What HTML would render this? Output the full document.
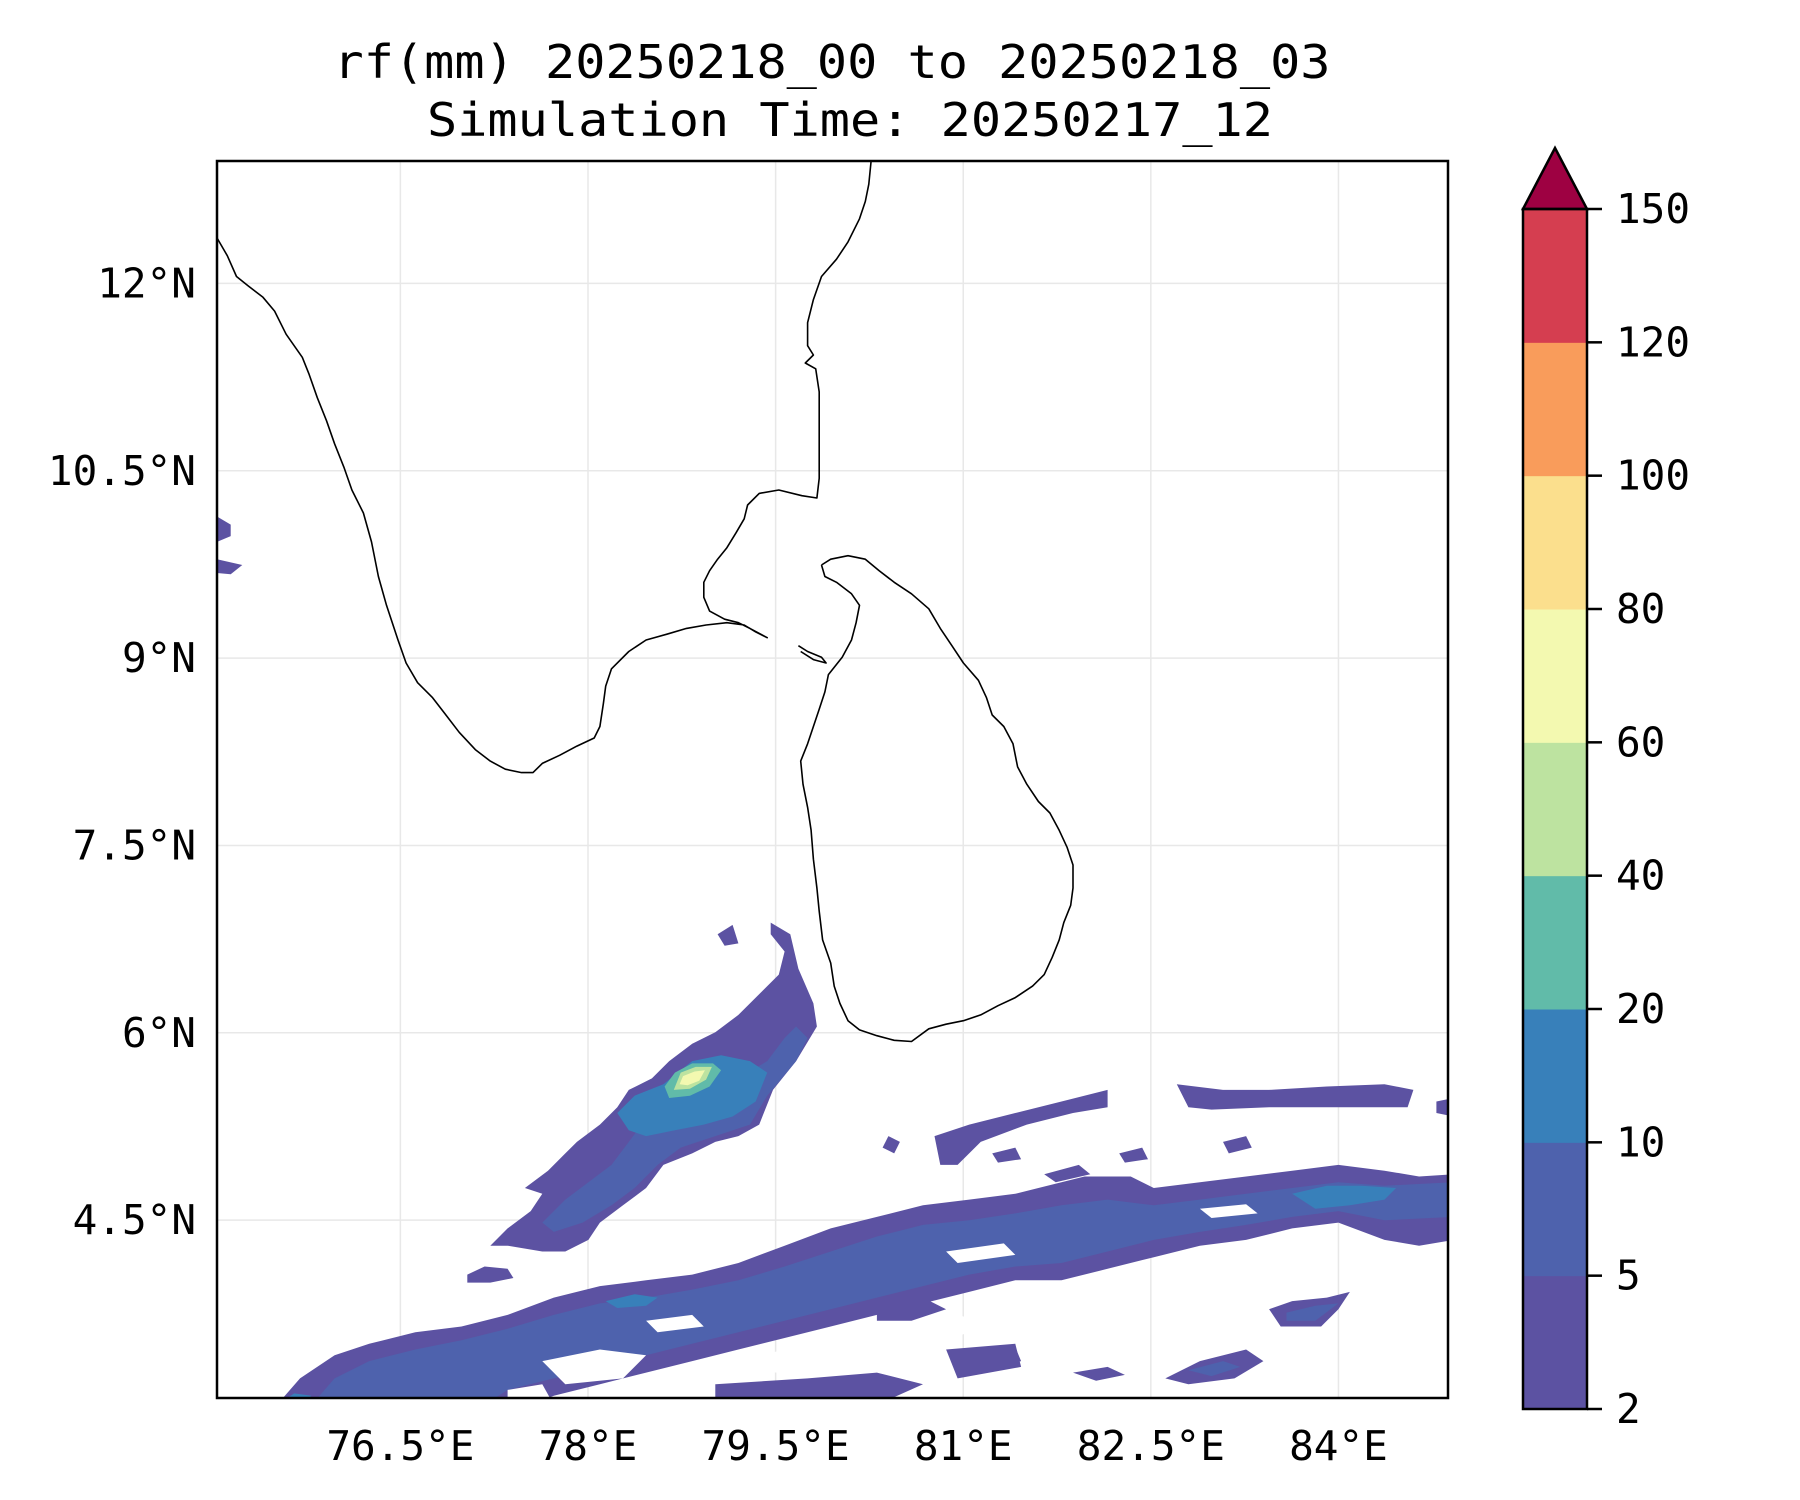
<!DOCTYPE html>
<html><head><meta charset="utf-8"><style>
html,body{margin:0;padding:0;background:#fff;}
svg{display:block;font-family:"DejaVu Sans Mono","Liberation Mono",monospace;}
</style></head><body>
<svg id="chart" width="1800" height="1500" viewBox="0 0 1800 1500" xmlns="http://www.w3.org/2000/svg">
<text x="832" y="78" font-size="46" text-anchor="middle" textLength="997" lengthAdjust="spacingAndGlyphs">rf(mm) 20250218_00 to 20250218_03</text>
<text x="850" y="136" font-size="46" text-anchor="middle" textLength="846" lengthAdjust="spacingAndGlyphs">Simulation Time: 20250217_12</text>
<defs><clipPath id="plotclip"><rect x="217" y="161" width="1231" height="1237"/></clipPath></defs>
<g id="grid"></g>
<g id="rain" clip-path="url(#plotclip)"></g>
<g id="coast" clip-path="url(#plotclip)"></g>
<rect x="217" y="161" width="1231" height="1237" fill="none" stroke="#000" stroke-width="2.5"/>
<g id="ticks"></g>
<g id="cbar"></g>
</svg>
<script>
// ---- axis / data arrays ----
const lonTicks = [76.5, 78, 79.5, 81, 82.5, 84];
const lonLabels = ["76.5°E","78°E","79.5°E","81°E","82.5°E","84°E"];
const latTicks = [12, 10.5, 9, 7.5, 6, 4.5];
const latLabels = ["12°N","10.5°N","9°N","7.5°N","6°N","4.5°N"];
const cbLevels = [2,5,10,20,40,60,80,100,120,150];
const cbColors = ["#5c52a2","#4e62ad","#3880ba","#61bba9","#bde3a0","#f3f9b0","#fbdf8d","#f99c5b","#d53e50"];
const cbExtendColor = "#9e0142";

// reference-trace helper: traced coords -> lon/lat
function refLon(dx){ return 76.5 + (dx*1.1538 - 400.4)/125.08; }
function refLat(dy){ return 12 - (dy*1.1538 - 283.8)/124.9; }
function toLL(arr){ const o=[]; for(let i=0;i<arr.length;i+=2) o.push([refLon(arr[i]),refLat(arr[i+1])]); return o; }

const indiaCoast = toLL([186,203,197,222,205,240,215,248,228,258,238,270,248,290,262,310,268,325,275,345,283,365,290,385,298,405,305,425,315,445,322,470,328,500,335,525,345,555,352,575,362,592,375,605,385,618,398,635,412,650,425,660,438,667,452,670,462,670,470,662,485,655,500,647,515,640,520,630,523,610,525,595,530,580,545,565,560,555,578,550,595,545,612,542,630,540,645,542,655,548,665,553,650,545,640,540,628,537,615,530,610,518,610,505,615,495,622,485,630,475,638,462,645,450,648,438,658,428,675,425,695,430,708,432,710,415,710,395,710,370,710,340,707,320,698,315,705,308,700,300,700,280,705,260,712,240,725,225,735,210,745,190,750,175,753,160,755,140]);
const lankaCoast = toLL([712,490,720,485,735,482,750,485,762,495,775,505,790,515,805,528,815,545,825,560,835,575,848,590,855,605,860,620,870,630,878,645,882,665,890,680,900,695,910,705,918,720,925,735,930,750,930,770,928,785,922,800,918,815,912,830,905,845,895,855,880,865,865,872,850,880,835,885,820,888,805,892,790,903,775,902,760,898,745,893,735,885,728,870,723,855,720,835,713,815,710,790,708,770,705,745,703,720,700,700,696,680,694,660,700,645,705,630,710,615,715,600,718,585,730,570,738,555,742,540,745,525,738,515,725,505,715,500,712,490]);
const islandCoast = toLL([692,560,700,565,712,570,716,575,705,572,694,565]);

// rain contour polygons by level index (0 = 2-5 mm, 1 = 5-10, 2 = 10-20, ...)
const rainL0 = [
 toLL([668,800,685,810,692,840,705,870,708,890,690,920,670,945,658,975,640,985,620,990,600,1000,575,1010,560,1030,540,1045,520,1060,510,1075,490,1085,470,1085,440,1080,425,1080,440,1065,460,1050,470,1035,455,1030,475,1015,490,1000,500,990,520,975,535,960,545,945,565,935,580,920,600,905,620,895,640,880,660,860,675,845,680,825,668,810]),
 toLL([240,1218,260,1195,290,1175,320,1165,360,1155,400,1150,440,1140,480,1125,520,1115,560,1110,600,1105,640,1095,680,1080,720,1065,760,1055,800,1045,840,1040,880,1035,900,1030,940,1020,980,1020,1000,1030,1040,1025,1080,1020,1120,1015,1160,1010,1200,1015,1230,1020,1260,1018,1260,1075,1230,1080,1200,1075,1160,1060,1120,1065,1080,1075,1040,1080,1000,1090,960,1100,920,1110,880,1110,840,1120,800,1130,760,1140,720,1150,680,1160,640,1170,600,1180,560,1190,520,1200,480,1210,460,1218]),
 toLL([810,985,840,975,880,965,920,955,960,945,960,960,930,965,890,975,850,990,830,1010,815,1010]),
 toLL([1020,940,1060,945,1100,945,1150,942,1200,940,1225,945,1220,960,1150,960,1100,960,1050,962,1030,960]),
 toLL([1245,955,1260,952,1260,968,1245,965]),
 toLL([188,448,200,455,200,465,188,470]),
 toLL([188,485,210,490,200,498,188,497]),
 toLL([622,810,635,802,640,818,628,820]),
 toLL([405,1105,420,1098,440,1100,445,1108,425,1112,405,1112]),
 toLL([1100,1135,1120,1128,1150,1125,1170,1120,1160,1135,1145,1150,1110,1150]),
 toLL([1010,1195,1040,1180,1080,1170,1095,1180,1070,1195,1030,1200]),
 toLL([930,1190,960,1185,975,1192,950,1197]),
 toLL([760,1130,800,1125,820,1135,790,1145,760,1145]),
 toLL([860,1000,880,995,885,1005,865,1008]),
 toLL([890,1050,915,1045,925,1055,900,1060]),
 toLL([770,985,780,990,775,1000,765,995]),
 toLL([850,1175,880,1168,885,1180,855,1188]),
 toLL([620,1200,700,1195,760,1190,800,1200,760,1218,620,1218]),
 toLL([820,1170,880,1165,885,1185,830,1195]),
 toLL([905,1018,935,1010,945,1018,915,1025]),
 toLL([970,1000,990,995,995,1005,975,1008]),
 toLL([1060,990,1080,985,1085,995,1065,1000])
];
const rainL1 = [
 toLL([690,890,700,900,690,920,665,950,650,975,620,985,590,995,570,1010,550,1030,530,1045,505,1060,480,1068,470,1060,490,1040,510,1025,530,1010,545,990,560,970,580,960,610,950,640,935,665,920,680,900]),
 toLL([270,1218,290,1195,320,1180,360,1170,400,1162,440,1152,480,1140,520,1130,560,1125,600,1118,640,1110,680,1098,720,1085,760,1072,800,1062,840,1058,880,1052,920,1045,960,1040,1000,1045,1040,1040,1080,1035,1120,1030,1160,1025,1200,1028,1260,1025,1260,1055,1200,1058,1160,1050,1120,1055,1080,1062,1040,1068,1000,1075,960,1085,920,1095,880,1098,840,1105,800,1115,760,1125,720,1135,680,1145,640,1155,600,1165,560,1175,520,1185,480,1195,440,1205,420,1218]),
 toLL([1115,1138,1140,1132,1160,1130,1140,1145,1115,1145]),
 toLL([1030,1188,1060,1180,1075,1185,1050,1193])
];
const rainL2 = [
 toLL([600,920,625,915,650,920,665,930,655,955,635,968,610,975,585,980,560,985,545,980,535,965,550,950,575,940]),
 toLL([1120,1035,1150,1028,1180,1028,1210,1030,1200,1040,1170,1045,1140,1048]),
 toLL([525,1128,550,1122,570,1125,560,1132,535,1134]),
 toLL([240,1218,255,1208,270,1210,260,1218])
];
const rainL3 = [ toLL([585,930,600,922,618,922,625,928,615,942,598,950,580,952,576,942]) ];
const rainL4 = [ toLL([590,930,603,925,617,925,612,936,598,944,584,945]) ];
const rainL5 = [ toLL([592,933,602,929,611,928,606,937,596,941,589,940]) ];
const rainLevels = [rainL0, rainL1, rainL2, rainL3, rainL4, rainL5];
// dry holes inside the rain bands
const rainHoles = [
 toLL([470,1180,520,1170,560,1175,540,1195,490,1200]),
 toLL([660,1175,700,1165,740,1172,720,1188,670,1190]),
 toLL([440,1205,470,1200,480,1218,440,1218]),
 toLL([780,1150,830,1140,860,1148,820,1162]),
 toLL([900,1125,960,1115,990,1122,940,1135]),
 toLL([560,1145,600,1140,610,1150,570,1155]),
 toLL([820,1085,870,1078,880,1088,830,1095]),
 toLL([1040,1048,1080,1044,1090,1052,1050,1056])
];

// ---- projection / axis functions ----
const plotL=217, plotT=161, plotR=1448, plotB=1398;
const lon0=75.034, lat0=12.98, pxLon=125.08, pxLat=124.9;
function xOf(lon){ return plotL + (lon-lon0)*pxLon; }
function yOf(lat){ return plotT + (lat0-lat)*pxLat; }
const NS="http://www.w3.org/2000/svg";
function mk(tag, parent, attrs){ const e=document.createElementNS(NS,tag); for(const k in attrs) e.setAttribute(k,attrs[k]); parent.appendChild(e); return e; }
function ptsStr(poly){ return poly.map(p=>xOf(p[0]).toFixed(1)+","+yOf(p[1]).toFixed(1)).join(" "); }

const grid=document.getElementById('grid'), ticks=document.getElementById('ticks');
lonTicks.forEach((lon,i)=>{
  const x=xOf(lon);
  const g=mk('line',grid,{x1:x,y1:plotT,x2:x,y2:plotB,stroke:"#e8e8e8","stroke-width":1.5});
  
  
  const t=mk('text',ticks,{x:x,y:1460,"font-size":41,"text-anchor":"middle"});
  t.textContent=lonLabels[i];
  
  
});
latTicks.forEach((lat,i)=>{
  const y=yOf(lat);
  const g=mk('line',grid,{x1:plotL,y1:y,x2:plotR,y2:y,stroke:"#e8e8e8","stroke-width":1.5});
  
  
  const t=mk('text',ticks,{x:196,y:y+14,"font-size":41,"text-anchor":"end"});
  t.textContent=latLabels[i];
  
  
});

const rain=document.getElementById('rain');
rainLevels.forEach((lvl,li)=>{
  lvl.forEach(poly=>{
    const p=mk('polygon',rain,{points:ptsStr(poly),fill:cbColors[li]});
    
    
  });
});
rainHoles.forEach(poly=>{
  const p=mk('polygon',rain,{points:ptsStr(poly),fill:"#fff"});
  
  
});

const coast=document.getElementById('coast');
[indiaCoast,lankaCoast,islandCoast].forEach((c,i)=>{
  const p=mk('polyline',coast,{points:ptsStr(c),fill:"none",stroke:"#000","stroke-width":1.6,"stroke-linejoin":"round"});
  
  
});

const cb=document.getElementById('cbar');
const cbL=1523, cbR=1587, cbTop=209, cbBot=1409;
const seg=(cbBot-cbTop)/(cbLevels.length-1);
function cbY(i){ return cbBot - i*seg; }
cbColors.forEach((c,i)=>{
  const r=mk('rect',cb,{x:cbL,y:cbY(i+1),width:cbR-cbL,height:seg+0.5,fill:c});
  
  
});
const tri=mk('polygon',cb,{points:`${cbL},${cbTop} ${(cbL+cbR)/2},148 ${cbR},${cbTop}`,fill:cbExtendColor,stroke:"#000","stroke-width":2.5});


const fr=mk('rect',cb,{x:cbL,y:cbTop,width:cbR-cbL,height:cbBot-cbTop,fill:"none",stroke:"#000","stroke-width":2.5});


cbLevels.forEach((v,i)=>{
  const y=cbY(i);
  const l=mk('line',cb,{x1:cbR,y1:y,x2:cbR+15,y2:y,stroke:"#000","stroke-width":2.5});
  
  
  const t=mk('text',cb,{x:1616,y:y+14,"font-size":41});
  t.textContent=String(v);
  
  
});
</script>
</body></html>
